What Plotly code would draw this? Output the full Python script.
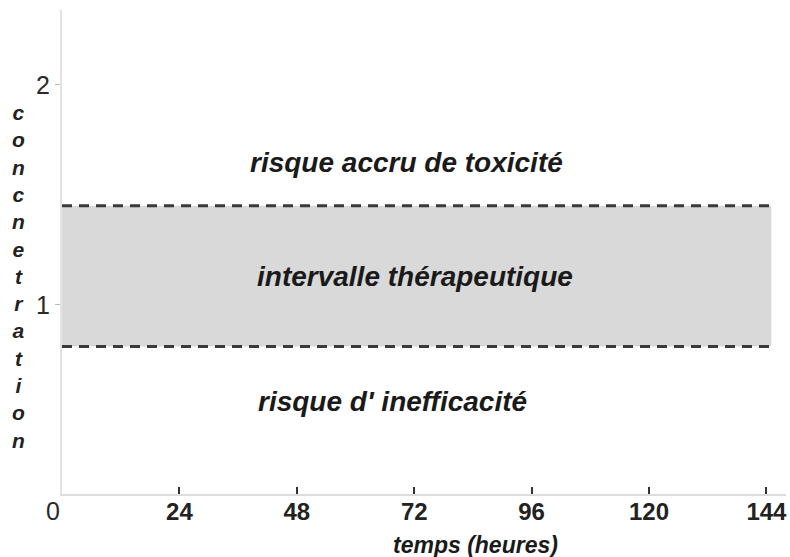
import plotly.graph_objects as go

# Data
band_x = [0, 145]
lower_limit = [0.81, 0.81]
upper_limit = [1.45, 1.45]
x_ticks = [24, 48, 72, 96, 120, 144]
y_ticks = [1, 2]
labels = ["risque accru de toxicité", "intervalle thérapeutique", "risque d' inefficacité"]
label_x = [70.4, 72.2, 67.6]
label_y = [1.645, 1.127, 0.559]
ylabel_letters = list("concnetration")

fig = go.Figure()
fig.add_trace(go.Scatter(x=band_x, y=lower_limit, mode="lines",
                         line=dict(color="#3a3a3a", width=3, dash="10px,7px"),
                         showlegend=False, hoverinfo="skip"))
fig.add_trace(go.Scatter(x=band_x, y=upper_limit, mode="lines", fill="tonexty",
                         fillcolor="#d9d9d9",
                         line=dict(color="#3a3a3a", width=3, dash="10px,7px"),
                         showlegend=False, hoverinfo="skip"))

for t, x, y in zip(labels, label_x, label_y):
    fig.add_annotation(x=x, y=y, text=f"<b><i>{t}</i></b>", showarrow=False,
                       xanchor="center", yanchor="middle",
                       font=dict(family="Liberation Sans", size=28, color="#1a1a1a"))

fig.add_annotation(xref="paper", yref="paper", x=0, y=0.5, xshift=-44, yshift=-24,
                   xanchor="center", yanchor="middle",
                   text="<br>".join(f"<b><i>{c}</i></b>" for c in ylabel_letters),
                   showarrow=False, align="center",
                   font=dict(family="Liberation Sans", size=21, color="#222"))

fig.add_annotation(xref="x", yref="paper", x=84.5, y=0, yshift=-51,
                   xanchor="center", yanchor="middle",
                   text="<b><i>temps (heures)</i></b>", showarrow=False,
                   font=dict(family="Liberation Sans", size=23, color="#1a1a1a"))

fig.add_annotation(xref="x", yref="paper", x=0, y=0, xshift=-9, yshift=-17,
                   xanchor="center", yanchor="middle",
                   text="0", showarrow=False,
                   font=dict(family="Liberation Sans", size=25, color="#2a2a2a"))

fig.update_layout(
    width=790, height=557,
    margin=dict(l=62, r=4, t=10, b=63),
    paper_bgcolor="white", plot_bgcolor="white",
    xaxis=dict(range=[0, 148], tickvals=x_ticks,
               ticktext=[f"<b>{v}</b>" for v in x_ticks],
               ticks="inside", ticklen=7, tickwidth=1.5, tickcolor="#333",
               ticklabelstandoff=-5,
               showline=True, linecolor="#dddddd", linewidth=2,
               showgrid=False, zeroline=False,
               tickfont=dict(family="Liberation Sans", size=24, color="#222")),
    yaxis=dict(range=[0.14, 2.34], tickvals=y_ticks,
               ticks="outside", ticklen=5, tickcolor="#bbbbbb",
               showline=True, linecolor="#e3e3e3", linewidth=2,
               showgrid=False, zeroline=False,
               tickfont=dict(family="Liberation Sans", size=25, color="#2a2a2a")),
)

fig.write_html("out.html", config={"displayModeBar": False},
               post_script="document.body.style.margin='0';document.body.style.overflow='hidden';")
